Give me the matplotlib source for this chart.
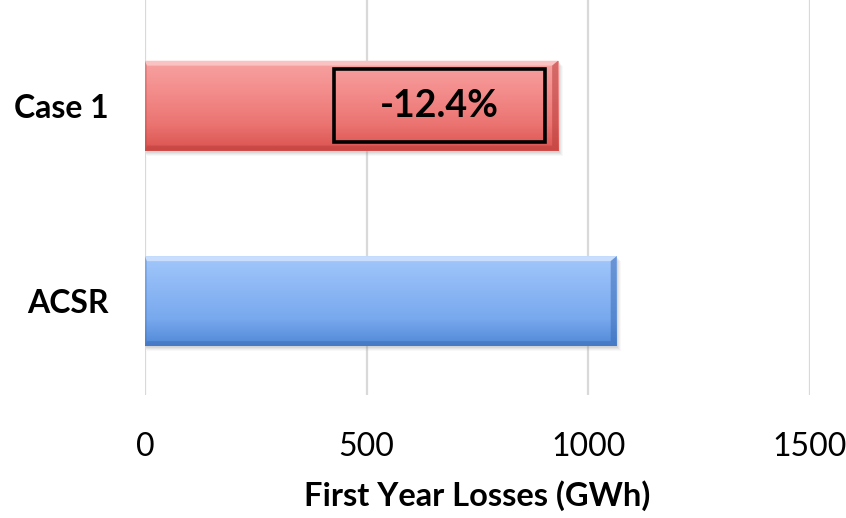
import matplotlib
matplotlib.use("Agg")
import matplotlib.pyplot as plt
import numpy as np
from matplotlib.colors import LinearSegmentedColormap
from matplotlib.patches import Rectangle, Polygon

# Data
categories = ["ACSR", "Case 1"]
losses_gwh = [1064, 932]
x_ticks = [0, 500, 1000, 1500]
x_label = "First Year Losses (GWh)"

# Percentage change of Case 1 relative to ACSR
pct_change = (losses_gwh[1] / losses_gwh[0] - 1) * 100
change_label = f"{pct_change:.1f}%"

plt.rcParams["font.family"] = ["Lato", "DejaVu Sans"]

fig = plt.figure(figsize=(8.46, 5.18), dpi=100)
ax = fig.add_axes([0.1714, 0.2375, 0.7860, 0.7625])

bar_h = 0.46
y_pos = np.arange(len(categories))
bars = ax.barh(y_pos, losses_gwh, height=bar_h, color="none", edgecolor="none", zorder=3)

# colour stops, bottom -> top
schemes = [
    ["#5088D6", "#78A8EE", "#8DB8F5", "#A2C7FB"],   # blue
    ["#DA524F", "#EB7471", "#F38C8B", "#F7A2A1"],   # red
]
edge_dark = ["#3C6DB6", "#B83E3B"]
edge_light = ["#D3E5FD", "#FCCBCB"]

px_x = 1.0 / 0.4434      # data units per pixel along x
px_y = 1.0 / 195.5       # data units per pixel along y

for bar, cols, dk, lt in zip(bars, schemes, edge_dark, edge_light):
    x0, y0 = bar.get_x(), bar.get_y()
    w, h = bar.get_width(), bar.get_height()

    # soft drop shadow
    for k, a in [(5, 0.05), (4, 0.07), (3, 0.09), (2, 0.11)]:
        ax.add_patch(Rectangle((x0 + k * px_x * 0.3, y0 - k * px_y),
                               w + k * px_x * 0.6, h, facecolor="#7F7F7F",
                               edgecolor="none", alpha=a, zorder=2))

    # vertical gradient fill
    cmap = LinearSegmentedColormap.from_list(
        "bar", [(0, cols[0]), (0.3, cols[1]), (0.65, cols[2]), (1, cols[3])])
    im = ax.imshow(np.linspace(0, 1, 256).reshape(-1, 1),
                   extent=[x0, x0 + w, y0, y0 + h], aspect="auto", cmap=cmap,
                   origin="lower", zorder=3, interpolation="bilinear",
                   vmin=0, vmax=1)
    im.set_clip_path(bar)

    # bevel edges
    bx, by = 6 * px_x, 5 * px_y
    top = Polygon([[x0, y0 + h], [x0 + w, y0 + h], [x0 + w - bx, y0 + h - by], [x0 + bx * 0.3, y0 + h - by]],
                  closed=True, facecolor=lt, edgecolor="none", alpha=0.8, zorder=4)
    right = Polygon([[x0 + w, y0 + h], [x0 + w, y0], [x0 + w - bx, y0 + by], [x0 + w - bx, y0 + h - by]],
                    closed=True, facecolor=dk, edgecolor="none", alpha=0.55, zorder=4)
    bottom = Polygon([[x0, y0], [x0 + w, y0], [x0 + w - bx, y0 + by], [x0 + bx * 0.3, y0 + by]],
                     closed=True, facecolor=dk, edgecolor="none", alpha=0.5, zorder=4)
    left = Polygon([[x0, y0], [x0, y0 + h], [x0 + bx * 0.3, y0 + h - by], [x0 + bx * 0.3, y0 + by]],
                   closed=True, facecolor=dk, edgecolor="none", alpha=0.3, zorder=4)
    for p in (top, right, bottom, left):
        ax.add_patch(p)

# framed percentage label inside the Case 1 bar
case_bar = bars[1]
box_right = case_bar.get_width() - 30
box_w = 476
box_half = 0.187
cy = case_bar.get_y() + case_bar.get_height() / 2
ax.add_patch(Rectangle((box_right - box_w, cy - box_half), box_w, 2 * box_half,
                       facecolor="none", edgecolor="black", linewidth=2.6, zorder=6))
ax.text(box_right - box_w / 2, cy, change_label, ha="center", va="center",
        fontsize=27, fontweight="bold", color="black", zorder=7)

ax.set_xlim(0, 1500)
ax.set_ylim(-0.48, 1.54)
ax.set_xticks(x_ticks)
ax.set_xticklabels([str(t) for t in x_ticks], fontsize=23)
ax.set_yticks(y_pos)
ax.set_yticklabels(categories, fontsize=23, fontweight="bold")
ax.tick_params(axis="both", length=0)
ax.tick_params(axis="x", pad=27)
ax.tick_params(axis="y", pad=26)
ax.set_xlabel(x_label, fontsize=23.5, fontweight="bold", labelpad=13)

ax.grid(axis="x", color="#D9D9D9", linewidth=1.6, zorder=0)
ax.set_axisbelow(True)
for s in ax.spines.values():
    s.set_visible(False)

fig.savefig("out.png", dpi=100)
